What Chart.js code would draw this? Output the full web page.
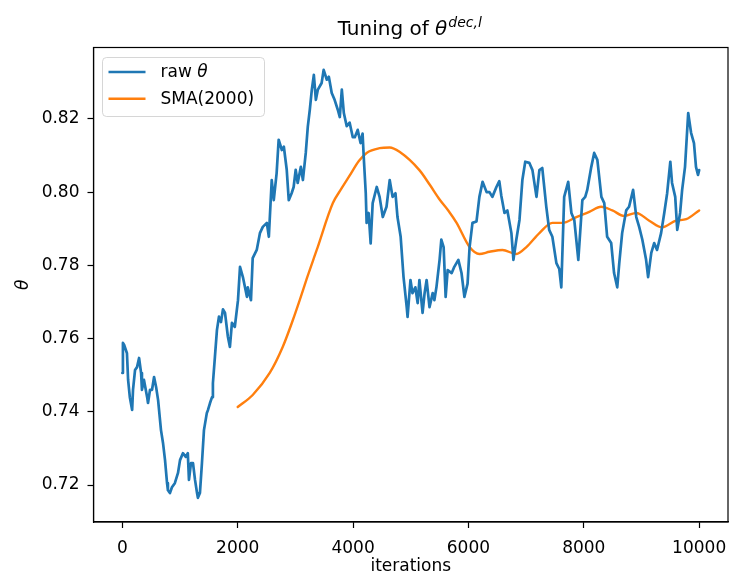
<!DOCTYPE html>
<html><head><meta charset="utf-8">
<script src="https://cdn.jsdelivr.net/npm/chart.js@4/dist/chart.umd.min.js"></script>
<style>html,body{margin:0;padding:0;background:#fff;}#wrap{width:730px;height:577px;}</style>
</head><body><div id="wrap"><canvas id="c" width="730" height="577"></canvas></div>
<script>
const titleMain = "Tuning of ";
const titleSymbol = "θ";
const titleSup = "dec,l";
const xAxisLabel = "iterations";
const yAxisLabel = "θ";
const seriesLabels = ["raw θ", "SMA(2000)"];
const xTicks = [0, 2000, 4000, 6000, 8000, 10000];
const yTicks = [0.72, 0.74, 0.76, 0.78, 0.80, 0.82];

const rawIter = [0,10,30,80,100,130,170,185,220,255,290,325,340,375,430,445,480,515,550,585,620,670,705,740,775,790,825,860,910,965,1000,1050,1100,1135,1155,1190,1225,1260,1295,1310,1345,1380,1415,1465,1485,1520,1555,1570,1605,1640,1675,1710,1745,1780,1830,1865,1900,1950,2005,2040,2090,2160,2175,2230,2260,2330,2385,2435,2505,2540,2590,2625,2675,2710,2765,2800,2850,2885,2935,2970,3005,3040,3095,3130,3180,3215,3250,3285,3320,3355,3390,3455,3490,3545,3580,3630,3680,3735,3770,3805,3840,3890,3940,3995,4030,4080,4130,4165,4185,4220,4235,4270,4305,4340,4410,4460,4515,4580,4635,4685,4735,4770,4825,4875,4930,4945,4995,5030,5080,5120,5150,5205,5240,5275,5325,5380,5410,5445,5500,5530,5570,5605,5640,5710,5755,5825,5880,5895,5930,5985,6020,6070,6140,6190,6245,6315,6365,6415,6485,6535,6570,6625,6675,6745,6780,6830,6885,6935,6985,7055,7110,7180,7230,7280,7350,7400,7455,7525,7575,7610,7660,7730,7785,7835,7905,7975,8025,8060,8130,8180,8235,8305,8355,8405,8475,8525,8580,8615,8665,8735,8785,8855,8910,8960,9015,9080,9115,9170,9220,9270,9340,9395,9445,9500,9530,9585,9620,9670,9705,9755,9810,9860,9910,9945,9980,10000];
const rawTheta = [0.7506,0.7588,0.7583,0.756,0.7487,0.744,0.7405,0.746,0.7514,0.7522,0.7547,0.7506,0.746,0.7487,0.744,0.7424,0.746,0.746,0.7495,0.7468,0.7432,0.735,0.7315,0.7268,0.7205,0.7186,0.7178,0.7194,0.7205,0.7233,0.7268,0.7287,0.7277,0.7287,0.7214,0.726,0.726,0.7214,0.7178,0.7165,0.7178,0.726,0.735,0.7397,0.7405,0.7424,0.744,0.7478,0.755,0.7623,0.766,0.7645,0.768,0.767,0.7605,0.7577,0.7643,0.7632,0.7705,0.7796,0.7768,0.7714,0.774,0.7705,0.782,0.7842,0.7888,0.7905,0.7916,0.7878,0.8033,0.7978,0.8052,0.8143,0.8115,0.8124,0.8061,0.7978,0.7997,0.8014,0.8061,0.8025,0.8069,0.8033,0.8107,0.8178,0.8225,0.828,0.832,0.8252,0.828,0.8298,0.8334,0.8307,0.8315,0.8271,0.8252,0.8225,0.8205,0.828,0.8216,0.818,0.819,0.815,0.815,0.817,0.8134,0.816,0.8096,0.7997,0.7916,0.7943,0.786,0.797,0.8014,0.7987,0.7932,0.796,0.8033,0.7987,0.7997,0.7932,0.7878,0.7768,0.7686,0.7659,0.776,0.7724,0.774,0.7697,0.776,0.767,0.7724,0.776,0.7686,0.7724,0.7705,0.774,0.7815,0.787,0.785,0.7714,0.7787,0.7779,0.7796,0.7815,0.7779,0.776,0.7714,0.775,0.785,0.7916,0.792,0.7987,0.8028,0.800,0.800,0.7987,0.8014,0.803,0.799,0.7943,0.795,0.7888,0.7815,0.787,0.7924,0.8033,0.8083,0.808,0.806,0.7987,0.806,0.8066,0.796,0.7897,0.7878,0.7806,0.779,0.774,0.7987,0.8028,0.7943,0.7924,0.7815,0.7978,0.7987,0.8006,0.8069,0.8107,0.8088,0.7987,0.797,0.7878,0.7861,0.7779,0.774,0.7806,0.7888,0.795,0.796,0.8006,0.7932,0.7905,0.787,0.7815,0.7768,0.7834,0.7861,0.7842,0.7888,0.7943,0.7997,0.8083,0.8025,0.7987,0.7897,0.7943,0.8006,0.8069,0.8216,0.8162,0.8134,0.8069,0.8047,0.806];

const smaIter = [2000,2260,2555,2780,2955,3075,3200,3370,3650,3800,3940,4100,4235,4460,4635,4805,5150,5330,5500,5650,5795,6020,6190,6365,6590,6830,7005,7230,7455,7630,7870,8095,8300,8495,8700,8910,9135,9360,9600,9775,10000];
const smaTheta = [0.7413,0.7446,0.7506,0.7577,0.765,0.7705,0.7765,0.7842,0.797,0.801,0.8045,0.8085,0.8107,0.812,0.8122,0.811,0.806,0.802,0.798,0.795,0.7916,0.785,0.7831,0.7837,0.7842,0.7831,0.785,0.7888,0.7916,0.7916,0.7932,0.7946,0.796,0.795,0.7935,0.7943,0.7922,0.7904,0.7922,0.7926,0.795];

const FONT = "'DejaVu Sans', sans-serif";

function drawMixed(ctx, text, x, y, size) {
  const parts = text.split("θ");
  let cx = x;
  parts.forEach((p, i) => {
    ctx.font = size + "px " + FONT;
    ctx.fillText(p, cx, y);
    cx += ctx.measureText(p).width;
    if (i < parts.length - 1) {
      ctx.font = "italic " + size + "px " + FONT;
      ctx.fillText("θ", cx, y);
      cx += ctx.measureText("θ").width;
    }
  });
}

const decor = {
  id: 'decor',
  afterDatasetsDraw(chart) {
    const {ctx, chartArea: a} = chart;
    ctx.save();
    ctx.strokeStyle = '#000';
    ctx.lineWidth = 1.2;
    ctx.strokeRect(a.left, a.top, a.right - a.left, a.bottom - a.top);
    const lx = a.left + 9, ly = a.top + 10, lw = 162, lh = 59, r = 4;
    ctx.beginPath();
    ctx.moveTo(lx + r, ly);
    ctx.arcTo(lx + lw, ly, lx + lw, ly + lh, r);
    ctx.arcTo(lx + lw, ly + lh, lx, ly + lh, r);
    ctx.arcTo(lx, ly + lh, lx, ly, r);
    ctx.arcTo(lx, ly, lx + lw, ly, r);
    ctx.closePath();
    ctx.fillStyle = 'rgba(255,255,255,0.8)';
    ctx.fill();
    ctx.strokeStyle = 'rgba(204,204,204,0.8)';
    ctx.lineWidth = 1;
    ctx.stroke();
    chart.data.datasets.forEach((ds, i) => {
      const y = ly + 14.5 + i * 26.8;
      ctx.strokeStyle = ds.borderColor;
      ctx.lineWidth = 2.5;
      ctx.beginPath();
      ctx.moveTo(lx + 6, y);
      ctx.lineTo(lx + 43, y);
      ctx.stroke();
      ctx.fillStyle = '#000';
      ctx.textBaseline = 'middle';
      ctx.textAlign = 'left';
      drawMixed(ctx, ds.label, lx + 58, y + 1, 17);
    });
    ctx.restore();
  },
  afterDraw(chart) {
    const {ctx, chartArea: a} = chart;
    ctx.save();
    ctx.fillStyle = '#000';
    ctx.textBaseline = 'alphabetic';
    ctx.textAlign = 'left';
    ctx.font = "20px " + FONT;
    const w1 = ctx.measureText(titleMain).width;
    ctx.font = "italic 20px " + FONT;
    const w2 = ctx.measureText(titleSymbol).width;
    ctx.font = "italic 14px " + FONT;
    const w3 = ctx.measureText(titleSup).width;
    const total = w1 + w2 + 1 + w3;
    let x = (a.left + a.right) / 2 - total / 2 - 1;
    const base = 35;
    ctx.font = "20px " + FONT;
    ctx.fillText(titleMain, x, base);
    x += w1;
    ctx.font = "italic 20px " + FONT;
    ctx.fillText(titleSymbol, x, base);
    x += w2 + 1;
    ctx.font = "italic 14px " + FONT;
    ctx.fillText(titleSup, x, base - 8.5);
    ctx.restore();
  }
};

new Chart(document.getElementById('c'), {
  type: 'line',
  data: {
    datasets: [
      {label: seriesLabels[0], data: rawIter.map((x, i) => ({x, y: rawTheta[i]})), borderColor: '#1f77b4', borderWidth: 2.7, pointRadius: 0, tension: 0, fill: false, borderJoinStyle: 'round', borderCapStyle: 'round'},
      {label: seriesLabels[1], data: smaIter.map((x, i) => ({x, y: smaTheta[i]})), borderColor: '#ff7f0e', borderWidth: 2.4, pointRadius: 0, cubicInterpolationMode: 'monotone', fill: false, borderJoinStyle: 'round', borderCapStyle: 'round'}
    ]
  },
  options: {
    responsive: false, animation: false, devicePixelRatio: 1,
    layout: {padding: {top: 47.5, right: 2, bottom: 0, left: 0}},
    plugins: {legend: {display: false}, title: {display: false}, tooltip: {enabled: false}},
    scales: {
      x: {
        type: 'linear', min: -500, max: 10500,
        afterBuildTicks: s => { s.ticks = xTicks.map(v => ({value: v})); },
        afterFit: s => { s.height = 55; s.paddingLeft = 0; s.paddingRight = 0; },
        ticks: {font: {family: FONT, size: 17}, color: '#000', padding: 10, maxRotation: 0, autoSkip: false, callback: v => String(v)},
        grid: {drawOnChartArea: false, drawTicks: true, tickLength: 6, tickColor: '#000', tickWidth: 1.2},
        border: {display: true, color: '#000', width: 1.2},
        title: {display: true, text: xAxisLabel, font: {family: FONT, size: 17}, color: '#000', padding: {top: 0, bottom: 0}}
      },
      y: {
        type: 'linear', min: 0.7099, max: 0.8395,
        afterBuildTicks: s => { s.ticks = yTicks.map(v => ({value: v})); },
        afterFit: s => { s.width = 93.5; s.paddingTop = 0; s.paddingBottom = 0; },
        ticks: {font: {family: FONT, size: 17}, color: '#000', padding: 8, autoSkip: false, callback: v => Number(v).toFixed(2)},
        grid: {drawOnChartArea: false, drawTicks: true, tickLength: 6, tickColor: '#000', tickWidth: 1.2},
        border: {display: true, color: '#000', width: 1.2},
        title: {display: true, text: yAxisLabel, font: {family: FONT, size: 17, style: 'italic'}, color: '#000', padding: {top: 13, bottom: 0}}
      }
    }
  },
  plugins: [decor]
});
</script></body></html>
